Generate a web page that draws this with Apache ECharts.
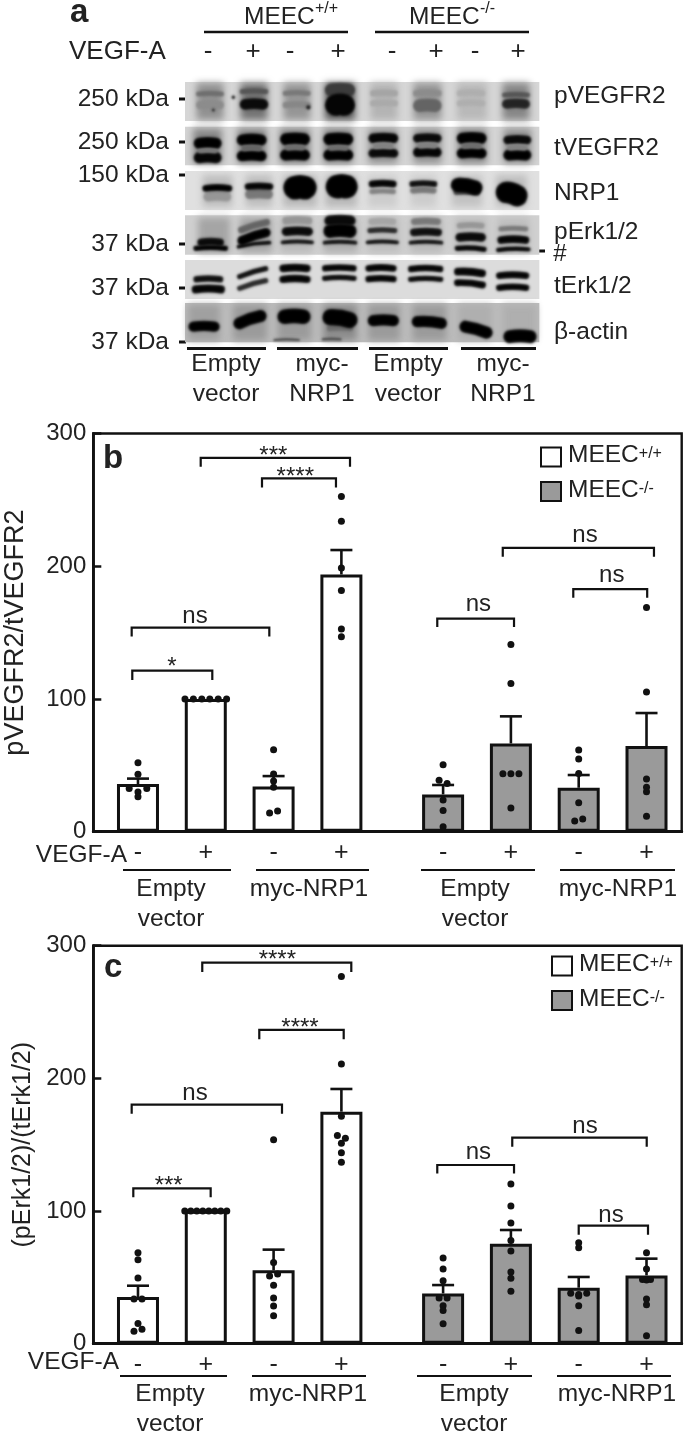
<!DOCTYPE html>
<html><head><meta charset="utf-8">
<style>html,body{margin:0;padding:0;background:#fff}#c{width:685px;height:1434px}</style>
<script src="https://cdn.jsdelivr.net/npm/echarts@6/dist/echarts.min.js"></script>
</head><body><div id="c"></div>
<script>
// ---------- data: positions of the eight groups on the x scale ----------
const slots = [0, 1, 2, 3, 4.5, 5.5, 6.5, 7.5];
const signs = ['-', '+', '-', '+', '-', '+', '-', '+'];

// ---------- panel b ----------
const bMeansWT = [35.9, 100, 34.1, 193.8];
const bMeansKO = [28.1, 66.5, 33.1, 64.5];
const bErrTop = [40, null, 41.9, 212.2, 35.2, 86.9, 42.7, 89.4];
// [value, sideways step]
const bDots = [
  [[52, 0], [43.2, 0], [32.6, -2.2], [32.6, 2.2], [30, 0], [26.4, 0]],
  [[100, -5.2], [100, -3.1], [100, -1], [100, 1], [100, 3.1], [100, 5.2]],
  [[61.8, 0], [43.4, 0], [38.2, 0], [33.4, 0], [14, -1], [15.6, 1]],
  [[252.6, 0], [233.8, 0], [198.6, 0], [181.8, 0], [152.7, 0], [146.9, 0]],
  [[50.5, 0], [38.7, -1], [36.4, 1], [23.9, 0], [16, 0], [3.8, 0]],
  [[141.1, 0], [111.7, 0], [43.7, -2], [43.7, 0], [43.7, 2], [17.8, 0]],
  [[61.5, 0], [54.7, 0], [43.9, 0], [21.8, 0], [8, -1], [9.5, 1]],
  [[169, 0], [105.2, 0], [39.7, 0], [33.4, 0], [30.1, 0], [11.6, 0]]
];
// [x1, x2, top, leftEnd, rightEnd, text, textX, textY]
const bBrackets = [
  [-0.084, 1.096, 121.3, 114.3, 114.3, '*', 0.501, 123.5],
  [-0.093, 1.937, 153.7, 147.1, 147.1, 'ns', 0.841, 162],
  [0.925, 3.127, 281.7, 275, 275, '***', 1.996, 283],
  [1.829, 2.92, 266.2, 259.4, 259.4, '****', 2.32, 267.2],
  [4.414, 5.546, 160.5, 154.2, 154.2, 'ns', 5.02, 171.3],
  [5.38, 7.61, 213.9, 207.2, 207.2, 'ns', 6.593, 223],
  [6.42, 7.51, 182.8, 176.3, 176.3, 'ns', 6.987, 193.3]
];

// ---------- panel c ----------
const cMeansWT = [35.2, 100.3, 55.3, 174.9];
const cMeansKO = [37.9, 75.4, 42.2, 51.5];
const cErrTop = [43.7, null, 70.9, 192, 44.2, 85.7, 50.3, 64.1];
const cDots = [
  [[68.6, 0], [63.3, 0], [49.5, 0], [33.7, -1], [33.7, 1], [15.3, 0], [9.3, -1], [10.8, 1]],
  [[100, -5.25], [100, -3.75], [100, -2.25], [100, -0.75], [100, 0.75], [100, 2.25], [100, 3.75], [100, 5.25]],
  [[153.8, 0], [61.3, 0], [51, -1], [52.5, 1], [44, 0], [34.4, 0], [28.4, 0], [21.1, 0]],
  [[276.7, 0], [210.8, 0], [171.4, 0], [157, -1], [154.8, 1], [151, 0], [144, 0], [136.7, 0]],
  [[64.6, 0], [56.3, 0], [47.5, 0], [34.5, -1], [34.5, 1], [28.6, 0], [25.1, 0], [15.1, 0]],
  [[120.4, 0], [103.8, 0], [91, 0], [77.7, 0], [69.9, 0], [54, 0], [49.3, 0], [39.5, 0]],
  [[76.1, 0], [72.4, 0], [38, -2], [35.9, 0], [38, 2], [28.6, 0], [10, 0], [37, 0]],
  [[68.6, 0], [56.3, 0], [48.3, -1], [48.3, 1], [33.7, 0], [29.4, 0], [6, 0], [48, 0]]
];
const cBrackets = [
  [-0.069, 1.072, 117.1, 110.3, 110.3, '***', 0.453, 118.9],
  [-0.093, 2.124, 180.2, 173.4, 173.4, 'ns', 0.841, 188.5],
  [0.948, 3.146, 287.2, 280.2, 280.2, '****', 2.055, 289.2],
  [1.789, 3.034, 236.5, 229.4, 229.4, '****', 2.389, 238],
  [4.414, 5.546, 134.7, 128.2, 128.2, 'ns', 5.02, 144],
  [5.52, 7.503, 155.3, 148.5, 148.5, 'ns', 6.593, 164.1],
  [6.5, 7.522, 89, 82.2, 82.2, 'ns', 6.976, 97]
];

// ---------- blot: [from, to, top, bottom, grey] lane smears ----------
const blotRowBg = [[21, 138, 214], [155, 271, 212], [288, 405, 224], [421, 539, 208], [555, 672, 220], [684, 802, 188]];
const blotSmears = [
  [48,133,24,135,145],[180,265,24,135,115],[308,392,24,135,150],[435,525,24,135,85],[570,655,24,135,180],[698,785,24,135,150],[832,920,24,135,185],[965,1050,24,135,135],
  [40,125,158,268,135],[170,260,158,268,130],[300,390,158,268,130],[430,520,158,268,130],[565,655,158,268,145],[698,785,158,268,145],[830,920,158,268,135],[968,1055,158,268,145],
  [65,158,300,395,190],[195,280,300,395,190],[310,410,300,395,185],[435,530,300,395,185],[565,650,300,395,205],[690,772,300,395,205],[812,908,300,395,195],[948,1040,300,395,190],
  [55,150,425,535,165],[180,275,425,535,165],[300,400,425,535,185],[430,535,425,535,175],[565,660,425,535,190],[690,790,425,535,185],[825,920,425,535,190],[950,1050,425,535,190],
  [25,120,687,799,160],[160,260,687,799,155],[290,395,687,799,155],[430,530,687,799,140],[565,660,687,799,155],[695,800,687,799,155],[835,935,687,799,175],[965,1070,687,799,175]
];
// [centre, half width, y left, y right, thickness, grey]
const blotTop = [
  [90,42,57,57,12,110],[90,42,90,90,20,140],
  [222,43,50,50,12,85],[222,43,88,88,25,10],
  [350,42,55,55,12,120],[350,42,90,90,15,135],
  [480,45,45,45,30,60],[480,45,90,90,50,5],
  [612,42,55,55,15,165],[612,42,85,85,15,170],
  [742,43,55,55,15,140],[742,43,92,92,30,100],
  [873,43,55,55,15,175],[873,43,85,85,15,175],
  [1008,42,60,60,12,85],[1008,42,87,87,22,35],
  [160,2,67,67,8,10],[100,2,105,105,7,30],[385,2,97,97,10,20],
  [83,42,205,205,26,0],[83,42,248,248,26,5],[83,30,228,228,12,120],
  [215,45,195,195,26,0],[215,45,243,243,24,0],[215,30,220,220,14,100],
  [345,45,193,193,28,0],[345,45,240,240,26,0],[345,30,218,218,14,110],
  [475,45,193,193,28,0],[475,45,240,240,26,0],[475,30,220,220,12,110],
  [610,45,190,190,22,5],[610,45,235,235,20,10],[610,30,213,213,14,130],
  [742,43,190,190,20,10],[742,43,232,232,22,5],[742,30,212,212,14,130],
  [875,45,190,190,26,0],[875,45,235,235,24,0],[875,30,213,213,14,110],
  [1012,42,195,195,20,10],[1012,42,240,240,26,0],[1012,30,218,218,14,130],
  [112,42,365,365,22,150],[112,45,340,340,16,0],
  [237,42,358,358,22,120],[237,43,335,335,16,5],
  [360,50,338,338,55,0],
  [485,48,335,335,55,0],
  [608,40,350,350,12,130],[608,42,327,327,16,5],
  [730,40,347,347,14,120],[730,42,327,327,14,15],
  [860,40,350,352,16,70],[860,48,330,338,34,0],
  [995,48,352,362,50,0]
];
// same fields, measured from the lower half of the blot
const blotBottom = [
  [92,52,115,115,12,0],[92,40,97,97,18,10],
  [222,52,110,98,9,5],[222,50,92,68,22,0],[222,48,60,37,16,100],
  [352,50,97,97,9,15],[352,47,65,65,20,10],[352,45,32,32,18,150],
  [480,52,98,98,9,15],[480,50,63,63,32,0],[480,47,32,32,24,10],
  [607,50,97,97,9,15],[607,45,62,62,12,40],[607,42,35,35,16,165],
  [738,52,98,98,9,15],[738,48,67,67,18,15],[738,45,35,35,16,120],
  [872,48,115,118,12,5],[872,46,82,82,20,10],[872,42,47,47,14,150],
  [1000,52,120,118,10,5],[1000,48,90,90,18,5],[1000,45,57,57,12,120],
  [85,50,238,238,19,5],[85,45,208,208,15,15],
  [218,47,235,212,12,40],[218,47,200,176,12,15],
  [345,47,175,175,18,5],[345,47,208,208,17,5],
  [478,52,175,175,15,5],[478,52,205,205,12,10],
  [603,47,175,175,16,5],[603,47,207,207,15,5],
  [737,53,177,177,15,5],[737,53,208,208,12,10],
  [870,48,185,190,18,5],[870,48,218,225,16,5],
  [998,50,197,197,16,5],[998,50,233,233,15,5],
  [480,40,355,355,14,110],[320,40,390,390,5,60],[455,30,388,388,6,70],
  [72,47,350,350,24,0],
  [210,50,340,318,28,0],
  [342,50,320,320,34,0],
  [480,53,322,330,38,0],
  [610,47,332,332,26,0],
  [748,53,335,340,26,0],
  [888,50,350,368,28,0],
  [1020,50,380,380,30,0]
];

// ---------- text ----------
const TEXT = '#222222', INK = '#111111', FONT = '"Liberation Sans", Arial, sans-serif';
// [text, x, y, align, size, weight]
const labels = [
  ['a', 70, 13, 'left', 33, 'bold'], ['b', 103, 459, 'left', 33, 'bold'], ['c', 104, 968, 'left', 33, 'bold'],
  ['MEEC', 244, 17, 'left', 24.5], ['+/+', 315, 9, 'left', 16], ['MEEC', 409, 17, 'left', 24.5], ['-/-', 480, 9, 'left', 16],
  ['VEGF-A', 69, 52, 'left', 26],
  ['-', 208, 52, 'center', 26], ['+', 253, 52, 'center', 26], ['-', 290, 52, 'center', 26], ['+', 338, 52, 'center', 26],
  ['-', 392, 52, 'center', 26], ['+', 436, 52, 'center', 26], ['-', 475, 52, 'center', 26], ['+', 518, 52, 'center', 26],
  ['250 kDa', 169, 99, 'right', 24.5], ['250 kDa', 169, 142, 'right', 24.5], ['150 kDa', 169, 175, 'right', 24.5],
  ['37 kDa', 169, 244, 'right', 24.5], ['37 kDa', 169, 288, 'right', 24.5], ['37 kDa', 169, 342, 'right', 24.5],
  ['pVEGFR2', 554, 96, 'left', 24.5], ['tVEGFR2', 554, 148, 'left', 24.5], ['NRP1', 554, 193, 'left', 24.5],
  ['pErk1/2', 554, 232, 'left', 24.5], ['tErk1/2', 554, 286, 'left', 24.5], ['β-actin', 554, 332, 'left', 24.5],
  ['#', 560, 254, 'center', 24],
  ['Empty', 226, 364, 'center', 24.5], ['vector', 226, 394, 'center', 24.5], ['myc-', 322, 364, 'center', 24.5], ['NRP1', 322, 394, 'center', 24.5],
  ['Empty', 408, 364, 'center', 24.5], ['vector', 408, 394, 'center', 24.5], ['myc-', 503, 364, 'center', 24.5], ['NRP1', 503, 394, 'center', 24.5],
  ['VEGF-A', 127, 855, 'right', 24.5],
  ['Empty', 171, 889, 'center', 24.5], ['vector', 171, 919, 'center', 24.5], ['myc-NRP1', 309, 889, 'center', 24.5],
  ['Empty', 475, 889, 'center', 24.5], ['vector', 475, 919, 'center', 24.5], ['myc-NRP1', 618, 889, 'center', 24.5],
  ['VEGF-A', 119, 1362, 'right', 24.5],
  ['Empty', 170, 1394, 'center', 24.5], ['vector', 170, 1424, 'center', 24.5], ['myc-NRP1', 308, 1394, 'center', 24.5],
  ['Empty', 474, 1394, 'center', 24.5], ['vector', 474, 1424, 'center', 24.5], ['myc-NRP1', 617, 1394, 'center', 24.5]
];
// [x1, y1, x2, y2, width]
const rules = [
  [204, 32, 348, 32, 2.5], [375, 32, 529, 32, 2.5],
  [179, 99, 186, 99, 3], [179, 142, 186, 142, 3], [179, 175, 186, 175, 3], [179, 244, 186, 244, 3], [179, 288, 186, 288, 3], [179, 342, 186, 342, 3],
  [539, 251, 545, 251, 3],
  [187, 348.5, 266, 348.5, 3], [277, 348.5, 358, 348.5, 3], [369, 348.5, 448, 348.5, 3], [461, 348.5, 536, 348.5, 3],
  [123, 870, 231, 870, 2], [256, 870, 369, 870, 2], [421, 870, 535, 870, 2], [560, 870, 675, 870, 2],
  [120, 1376, 227, 1376, 2], [252, 1376, 366, 1376, 2], [417, 1376, 532, 1376, 2], [557, 1376, 671, 1376, 2]
];

// ---------- build ----------
const STEP = 0.059, CAP = 11, OFF = 3000;
const slotsWT = slots.slice(0, 4), slotsKO = slots.slice(4);
const grey = g => `rgb(${g},${g},${g})`;

function barSeries(name, xi, xs, vals, fill) {
  return {
    type: 'bar', name, xAxisIndex: xi, yAxisIndex: xi, barWidth: 42, barGap: '-100%',
    data: xs.map((x, i) => [x, vals[i]]), z: 2,
    itemStyle: { color: fill, borderColor: INK, borderWidth: 3 }
  };
}
function errSeries(xi, tops, means) {
  return {
    type: 'custom', xAxisIndex: xi, yAxisIndex: xi, z: 3, silent: true,
    data: slots.map((x, i) => [x, tops[i], means[i]]).filter(d => d[1] !== null),
    renderItem(p, api) {
      const a = api.coord([api.value(0), api.value(1)]), b = api.coord([api.value(0), api.value(2)]);
      const style = { stroke: INK, lineWidth: 2.6, fill: null };
      return { type: 'group', children: [
        { type: 'line', shape: { x1: a[0], y1: a[1], x2: b[0], y2: b[1] }, style },
        { type: 'line', shape: { x1: a[0] - CAP, y1: a[1], x2: a[0] + CAP, y2: a[1] }, style }
      ] };
    }
  };
}
function dotSeries(xi, dots) {
  const data = [];
  dots.forEach((list, i) => list.forEach(d => data.push([slots[i] + d[1] * STEP, d[0]])));
  return { type: 'scatter', xAxisIndex: xi, yAxisIndex: xi, symbolSize: 7, z: 4, silent: true,
    itemStyle: { color: INK, opacity: 1 }, data };
}
function bracketSeries(xi, list) {
  return {
    type: 'custom', xAxisIndex: xi, yAxisIndex: xi, z: 5, silent: true,
    data: list.map(b => b.slice(0, 5).concat(b.slice(6))),
    renderItem(p, api) {
      const raw = list[p.dataIndex];
      const l = api.coord([raw[0], raw[3]]), lt = api.coord([raw[0], raw[2]]);
      const r = api.coord([raw[1], raw[4]]), rt = api.coord([raw[1], raw[2]]);
      const t = api.coord([raw[6], raw[7]]);
      return { type: 'group', children: [
        { type: 'polyline', shape: { points: [l, lt, rt, r] }, style: { stroke: INK, lineWidth: 2.2, fill: null } },
        { type: 'text', style: { x: t[0], y: t[1], text: raw[5], fill: TEXT, font: '24px ' + FONT, textAlign: 'center', textVerticalAlign: 'middle' } }
      ] };
    }
  };
}
const blotData = [];
blotRowBg.forEach(r => blotData.push([0, 15, 1078, r[0], r[1], r[2], 0, 0]));
blotSmears.forEach(s => blotData.push([0, s[0], s[1], s[2], s[3], s[4], 7, 0]));
blotTop.forEach(b => blotData.push([1, b[0], b[1], b[2], b[3], b[4], b[5], 0]));
blotBottom.forEach(b => blotData.push([1, b[0], b[1], b[2] + 405, b[3] + 405, b[4], b[5], 0]));

function renderBlot(p, api) {
  const v = i => api.value(i);
  if (v(0) === 0) {
    const a = api.coord([v(1), v(3)]), b = api.coord([v(2), v(4)]);
    const c = grey(v(5)), soft = v(6) > 0;
    return { type: 'rect', shape: { x: a[0] - (soft ? OFF : 0), y: a[1], width: b[0] - a[0], height: b[1] - a[1] },
      style: soft ? { fill: c, shadowBlur: v(6), shadowColor: c, shadowOffsetX: OFF } : { fill: c } };
  }
  const t = v(5) / 3 * 1.3, c = grey(v(6));
  const a = api.coord([v(1) - v(2), v(3)]), b = api.coord([v(1) + v(2), v(4)]);
  const m = api.coord([v(1), (v(3) + v(4)) / 2 - Math.min(6, v(2) / 10)]);
  const inset = Math.min(t / 2, (b[0] - a[0]) / 2);
  return { type: 'bezierCurve',
    shape: { x1: a[0] + inset - OFF, y1: a[1], x2: b[0] - inset - OFF, y2: b[1], cpx1: m[0] - OFF, cpy1: m[1] },
    style: { fill: null, stroke: c, lineWidth: t, lineCap: 'round', shadowBlur: 2.6, shadowColor: c, shadowOffsetX: OFF } };
}

const plotLeft = 93.3, plotWidth = 588.4, plotHeight = 398.2;
const xBase = {
  type: 'value', min: -0.659, max: 8.019, containShape: false, splitLine: { show: false },
  axisLine: { show: true, onZero: false, lineStyle: { color: INK, width: 2.8 } },
  axisTick: { show: false },
  axisLabel: { show: true, customValues: slots, margin: 9, color: TEXT, fontSize: 25, fontFamily: FONT,
    formatter: v => signs[slots.indexOf(v)] ?? '' }
};
const yBase = (name, gap, size) => ({
  type: 'value', min: 0, max: 300, interval: 100, splitLine: { show: false },
  axisLine: { show: true, onZero: false, lineStyle: { color: INK, width: 2.8 } },
  axisTick: { show: true, inside: true, length: 8, lineStyle: { color: INK, width: 2.5 } },
  axisLabel: { margin: 7, color: TEXT, fontSize: 24, fontFamily: FONT, showMinLabel: true, showMaxLabel: true },
  name, nameLocation: 'middle', nameRotate: 90, nameGap: gap,
  nameTextStyle: { color: TEXT, fontSize: size, fontFamily: FONT }
});
const legendBase = (left, top) => ({
  data: ['MEEC+/+', 'MEEC-/-'], left, top, orient: 'vertical', itemWidth: 20, itemHeight: 19, itemGap: 3.5,
  selectedMode: false, icon: 'rect', padding: 0,
  formatter: n => `{m|MEEC}{s|${n.slice(4)}}`,
  textStyle: { color: TEXT, fontFamily: FONT, padding: [0, 0, 0, 2],
    rich: { m: { fontSize: 24.5, fontFamily: FONT, color: TEXT, lineHeight: 22, verticalAlign: 'bottom' },
            s: { fontSize: 16, fontFamily: FONT, color: TEXT, lineHeight: 14, padding: [0, 0, 12, 0], verticalAlign: 'top' } } }
});

const graphic = [];
rules.forEach(r => graphic.push({ type: 'line', silent: true, shape: { x1: r[0], y1: r[1], x2: r[2], y2: r[3] },
  style: { stroke: INK, lineWidth: r[4] } }));
labels.forEach(l => graphic.push({ type: 'text', silent: true, x: l[1], y: l[2],
  style: { text: l[0], fill: TEXT, font: `${l[5] || 'normal'} ${l[4]}px ${FONT}`, textAlign: l[3], textVerticalAlign: 'middle' } }));

const chart = echarts.init(document.getElementById('c'), null, { renderer: 'canvas' });
chart.setOption({
  animation: false, backgroundColor: '#ffffff',
  textStyle: { fontFamily: FONT },
  grid: [
    { left: 180, top: 75, width: 365, height: 280, show: false, outerBoundsMode: 'none' },
    { left: plotLeft, top: 433.5, width: plotWidth, height: plotHeight, show: true, borderColor: INK, borderWidth: 2.4, backgroundColor: 'transparent', outerBoundsMode: 'none' },
    { left: plotLeft, top: 945.7, width: plotWidth, height: plotHeight - 0.2, show: true, borderColor: INK, borderWidth: 2.4, backgroundColor: 'transparent', outerBoundsMode: 'none' }
  ],
  xAxis: [
    { gridIndex: 0, type: 'value', min: 0, max: 1095, show: false },
    Object.assign({ gridIndex: 1 }, xBase),
    Object.assign({ gridIndex: 2 }, xBase)
  ],
  yAxis: [
    { gridIndex: 0, type: 'value', min: 0, max: 840, inverse: true, show: false },
    Object.assign({ gridIndex: 1 }, yBase('pVEGFR2/tVEGFR2', 64, 27)),
    Object.assign({ gridIndex: 2 }, yBase('(pErk1/2)/(tErk1/2)', 57, 25))
  ],
  legend: [legendBase(540, 443), legendBase(551, 952)],
  graphic: { elements: graphic },
  series: [
    { type: 'custom', xAxisIndex: 0, yAxisIndex: 0, silent: true, z: 1, data: blotData, renderItem: renderBlot,
      encode: { x: 1, y: 3 } },
    barSeries('MEEC+/+', 1, slotsWT, bMeansWT, '#ffffff'),
    barSeries('MEEC-/-', 1, slotsKO, bMeansKO, '#9a9a9a'),
    errSeries(1, bErrTop, bMeansWT.concat(bMeansKO)),
    dotSeries(1, bDots),
    bracketSeries(1, bBrackets),
    barSeries('MEEC+/+', 2, slotsWT, cMeansWT, '#ffffff'),
    barSeries('MEEC-/-', 2, slotsKO, cMeansKO, '#9a9a9a'),
    errSeries(2, cErrTop, cMeansWT.concat(cMeansKO)),
    dotSeries(2, cDots),
    bracketSeries(2, cBrackets)
  ]
});
</script></body></html>
